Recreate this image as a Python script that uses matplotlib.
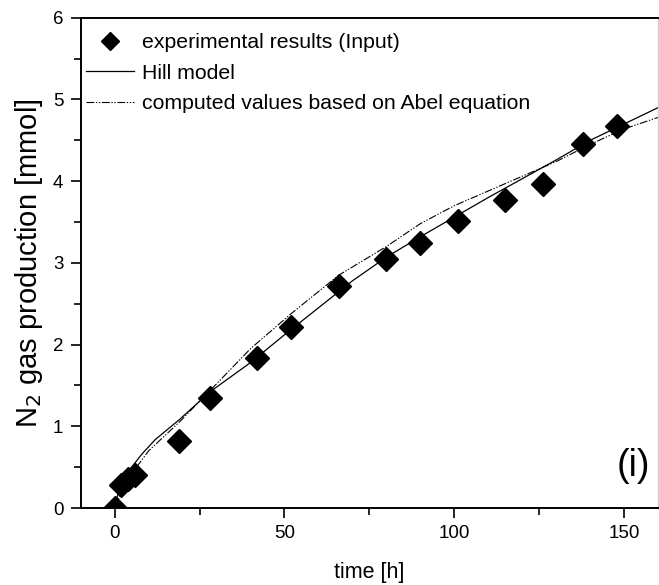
import matplotlib
matplotlib.use("Agg")
import matplotlib.pyplot as plt
from matplotlib.ticker import MultipleLocator

plt.rcParams["font.family"] = ["Liberation Sans", "DejaVu Sans"]

# experimental results (Input)
exp_time = [0, 2, 4, 6, 19, 28, 42, 52, 66, 80, 90, 101, 115, 126, 138, 148]
exp_n2 = [0.0, 0.28, 0.35, 0.40, 0.82, 1.35, 1.83, 2.21, 2.72, 3.05, 3.24, 3.51, 3.77, 3.97, 4.46, 4.68]

# Hill model
hill_time = [0, 1, 2, 5, 8, 12, 19, 28, 40, 50, 60, 70, 80, 90, 100, 110, 120, 130, 140, 150, 160]
hill_n2 = [0.0, 0.18, 0.30, 0.50, 0.66, 0.84, 1.08, 1.42, 1.78, 2.12, 2.45, 2.78, 3.07, 3.32, 3.56, 3.80, 4.03, 4.26, 4.50, 4.70, 4.90]

# computed values based on Abel equation
abel_time = [0, 2, 5, 10, 19, 30, 40, 52, 66, 80, 90, 100, 110, 120, 130, 140, 150, 160]
abel_n2 = [0.0, 0.20, 0.42, 0.70, 1.05, 1.52, 1.95, 2.38, 2.85, 3.20, 3.48, 3.70, 3.88, 4.06, 4.24, 4.45, 4.64, 4.78]

fig = plt.figure(figsize=(6.59, 5.85), dpi=100)
ax = fig.add_axes([0.1225, 0.1316, 0.876, 0.838])

ax.plot(exp_time, exp_n2, linestyle="none", marker="D", markersize=12,
        color="black", label="experimental results (Input)", zorder=3)
ax.plot(hill_time, hill_n2, color="black", linewidth=0.9, label="Hill model")
ax.plot(abel_time, abel_n2, color="black", linewidth=0.8,
        linestyle=(0, (7, 1.5, 1.2, 1.5, 1.2, 1.5)),
        label="computed values based on Abel equation")

ax.set_xlim(-10, 160)
ax.set_ylim(0, 6)
ax.xaxis.set_major_locator(MultipleLocator(50))
ax.xaxis.set_minor_locator(MultipleLocator(25))
ax.yaxis.set_major_locator(MultipleLocator(1))
ax.yaxis.set_minor_locator(MultipleLocator(0.5))
ax.tick_params(which="major", direction="out", length=7.5, width=1.2, labelsize=13.5, pad=5)
ax.tick_params(which="minor", direction="out", length=5, width=1.2)
ax.tick_params(top=False, right=False, which="both")

for side in ["left", "bottom", "top"]:
    ax.spines[side].set_linewidth(1.4)
ax.spines["right"].set_color("#d0d0d0")
ax.spines["right"].set_linewidth(1.0)

ax.set_xlabel("time [h]", fontsize=15.5, labelpad=14)
ax.set_ylabel("N$_2$ gas production [mmol]", fontsize=21, labelpad=6)

leg = ax.legend(loc="upper left", bbox_to_anchor=(0.009, 0.968), frameon=False,
                fontsize=15.3, handlelength=2.26, handletextpad=0.36,
                labelspacing=0.53, borderpad=0, borderaxespad=0, markerscale=0.8)

ax.text(0.986, 0.049, "(i)", transform=ax.transAxes, ha="right", va="bottom",
        fontsize=27)

fig.savefig("out.png", dpi=100, facecolor="white")
